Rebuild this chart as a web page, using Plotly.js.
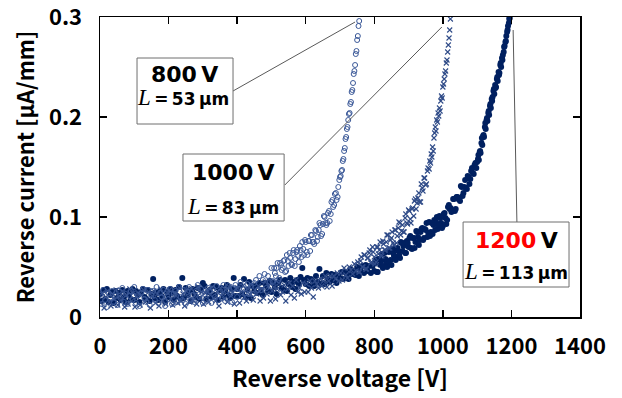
<!DOCTYPE html>
<html>
<head>
<meta charset="utf-8">
<script src="https://cdn.plot.ly/plotly-3.0.1.min.js"></script>
<style>html,body{margin:0;padding:0;background:#fff;}#chart{width:622px;height:398px;}</style>
</head>
<body>
<div id="chart"></div>
<script>
// ---- Data ----
// Reverse voltage [V] and reverse current [µA/mm] for the three devices
const v800 = [0,5,10,15,20,25,30,35,40,45,50,55,60,65,70,75,80,85,90,95,100,105,110,115,120,125,130,135,140,145,150,155,160,165,170,175,180,185,190,195,200,205,210,215,220,225,230,235,240,245,250,255,260,265,270,275,280,285,290,295,300,305,310,315,320,325,330,335,340,345,350,355,360,365,370,375,380,385,390,395,400,405,410,415,420,425,430,435,440,445,450,455,460,465,470,475,480,485,490,495,500,505,510,515,520,525,530,535,540,545,550,555,560,565,570,575,580,585,590,595,600,605,610,615,620,625,630,635,640,645,650,655,660,665,670,675,680,685,690,695,700,702,704,706,708,710,712,714,716,718,720,722,724,726,728,730,732,734,736,738,740,742,744,746,748,750,752,754,756];
const i800 = [0.022,0.013,0.027,0.017,0.010,0.024,0.019,0.026,0.015,0.021,0.012,0.026,0.019,0.029,0.015,0.023,0.013,0.021,0.026,0.017,0.030,0.014,0.022,0.011,0.024,0.028,0.018,0.015,0.027,0.012,0.022,0.026,0.017,0.030,0.014,0.024,0.020,0.027,0.011,0.025,0.018,0.028,0.013,0.023,0.026,0.015,0.030,0.020,0.017,0.027,0.013,0.025,0.030,0.017,0.022,0.015,0.026,0.032,0.020,0.028,0.014,0.023,0.017,0.029,0.026,0.014,0.028,0.020,0.031,0.017,0.025,0.019,0.032,0.016,0.026,0.031,0.023,0.015,0.029,0.032,0.020,0.028,0.035,0.020,0.028,0.024,0.033,0.023,0.031,0.023,0.034,0.037,0.027,0.041,0.027,0.037,0.043,0.029,0.041,0.035,0.049,0.035,0.044,0.049,0.037,0.054,0.047,0.056,0.045,0.062,0.051,0.059,0.052,0.067,0.058,0.067,0.055,0.067,0.075,0.062,0.075,0.062,0.076,0.082,0.075,0.073,0.086,0.080,0.094,0.081,0.093,0.100,0.092,0.104,0.096,0.115,0.110,0.123,0.117,0.130,0.140,0.141,0.146,0.147,0.156,0.158,0.166,0.169,0.178,0.180,0.188,0.190,0.197,0.203,0.204,0.213,0.215,0.225,0.227,0.234,0.243,0.246,0.252,0.263,0.266,0.277,0.281,0.291,0.296];
// second sweep, knee region
const v800b = [503,508,513,518,523,528,533,538,543,548,553,558,563,568,573,578,583,588,593,598,603,608,613,618,623,628,633,638,643,648,653,658,663,668,673,678,683,688,693,698];
const i800b = [0.036,0.049,0.041,0.054,0.039,0.052,0.049,0.057,0.046,0.056,0.064,0.053,0.064,0.051,0.065,0.061,0.071,0.060,0.068,0.077,0.065,0.076,0.066,0.082,0.075,0.087,0.076,0.087,0.092,0.083,0.101,0.094,0.094,0.106,0.103,0.117,0.112,0.124,0.120,0.137];

const v1000 = [2,7,12,17,22,27,32,37,42,47,52,57,62,67,72,77,82,87,92,97,102,107,112,117,122,127,132,137,142,147,152,157,162,167,172,177,182,187,192,197,202,207,212,217,222,227,232,237,242,247,252,257,262,267,272,277,282,287,292,297,302,307,312,317,322,327,332,337,342,347,352,357,362,367,372,377,382,387,392,397,402,407,412,417,422,427,432,437,442,447,452,457,462,467,472,477,482,487,492,497,502,507,512,517,522,527,532,537,542,547,552,557,562,567,572,577,582,587,592,597,602,607,612,617,622,627,632,637,642,647,652,657,662,667,672,677,682,687,692,697,702,707,712,717,722,727,732,737,742,747,752,757,762,767,772,777,782,787,792,797,802,807,812,817,822,827,832,837,842,847,852,857,862,867,872,877,882,887,892,897,902,907,912,917,922,927,932,937,942,947,952,957,960,962,964,966,968,970,972,974,976,978,980,982,984,986,988,990,992,994,996,998,1000,1002,1004,1006,1008,1010,1012,1014,1016,1018,1020,1022];
const i1000 = [0.014,0.024,0.009,0.020,0.026,0.015,0.011,0.023,0.018,0.027,0.012,0.021,0.017,0.025,0.010,0.022,0.013,0.028,0.016,0.024,0.010,0.020,0.024,0.012,0.022,0.027,0.015,0.018,0.025,0.009,0.021,0.026,0.014,0.023,0.011,0.028,0.016,0.020,0.013,0.024,0.027,0.018,0.012,0.024,0.021,0.014,0.029,0.016,0.023,0.011,0.026,0.020,0.015,0.028,0.017,0.022,0.013,0.030,0.019,0.025,0.013,0.024,0.027,0.015,0.022,0.030,0.019,0.016,0.025,0.011,0.029,0.024,0.018,0.027,0.015,0.030,0.021,0.025,0.013,0.028,0.029,0.014,0.025,0.031,0.020,0.016,0.028,0.023,0.032,0.017,0.027,0.023,0.031,0.016,0.028,0.019,0.035,0.023,0.031,0.016,0.026,0.030,0.018,0.028,0.034,0.022,0.025,0.032,0.016,0.028,0.034,0.022,0.031,0.019,0.037,0.025,0.029,0.023,0.034,0.025,0.033,0.025,0.036,0.029,0.020,0.036,0.033,0.029,0.038,0.031,0.036,0.041,0.030,0.036,0.041,0.031,0.041,0.038,0.044,0.036,0.044,0.037,0.049,0.042,0.039,0.050,0.047,0.043,0.053,0.046,0.055,0.045,0.060,0.050,0.062,0.048,0.059,0.067,0.055,0.065,0.053,0.070,0.063,0.075,0.061,0.073,0.067,0.082,0.069,0.077,0.085,0.072,0.087,0.081,0.095,0.082,0.092,0.085,0.103,0.093,0.106,0.094,0.109,0.116,0.108,0.119,0.115,0.133,0.126,0.139,0.133,0.149,0.148,0.156,0.154,0.163,0.160,0.170,0.166,0.179,0.184,0.190,0.186,0.197,0.195,0.204,0.201,0.209,0.206,0.216,0.221,0.219,0.230,0.233,0.238,0.243,0.246,0.254,0.257,0.265,0.272,0.279,0.287,0.298];
// second sweep, knee region
const v1000b = [755,760,765,770,775,780,785,790,795,800,805,810,815,820,825,830,835,840,845,850,855,860,865,870,875,880,885,890,895,900,905,910,915,920,925,930,935,940,945,950,955];
const i1000b = [0.045,0.056,0.050,0.062,0.048,0.059,0.064,0.054,0.070,0.060,0.055,0.070,0.067,0.062,0.076,0.067,0.075,0.082,0.069,0.079,0.074,0.087,0.074,0.089,0.094,0.086,0.085,0.099,0.094,0.107,0.098,0.108,0.101,0.118,0.114,0.124,0.115,0.129,0.139,0.132,0.146];

const v1200 = [0,5,10,15,20,25,30,35,40,45,50,55,60,65,70,75,80,85,90,95,100,105,110,115,120,125,130,135,140,145,150,155,160,165,170,175,180,185,190,195,200,205,210,215,220,225,230,235,240,245,250,255,260,265,270,275,280,285,290,295,300,305,310,315,320,325,330,335,340,345,350,355,360,365,370,375,380,385,390,395,400,405,410,415,420,425,430,435,440,445,450,455,460,465,470,475,480,485,490,495,500,505,510,515,520,525,530,535,540,545,550,555,560,565,570,575,580,585,590,595,600,605,610,615,620,625,630,635,640,645,650,655,660,665,670,675,680,685,690,695,700,705,710,715,720,725,730,735,740,745,750,755,760,765,770,775,780,785,790,795,800,805,810,815,820,825,830,835,840,845,850,855,860,865,870,875,880,885,890,895,900,905,910,915,920,925,930,935,940,945,950,955,960,965,970,975,980,985,990,995,1000,1005,1010,1015,1020,1025,1030,1035,1040,1045,1050,1055,1060,1065,1070,1075,1080,1085,1090,1095,1100,1102.5,1105,1107.5,1110,1112.5,1115,1117.5,1120,1122.5,1125,1127.5,1130,1132.5,1135,1137.5,1140,1142.5,1145,1147.5,1150,1152.5,1155,1157.5,1160,1162.5,1165,1167.5,1170,1172.5,1175,1177.5,1180,1182.5,1185,1187.5,1190,1192.5,1195];
const i1200 = [0.023,0.016,0.027,0.018,0.028,0.015,0.022,0.025,0.014,0.026,0.019,0.024,0.017,0.027,0.020,0.015,0.026,0.023,0.018,0.028,0.017,0.026,0.022,0.015,0.025,0.028,0.020,0.018,0.027,0.016,0.023,0.038,0.019,0.024,0.017,0.026,0.021,0.028,0.015,0.025,0.020,0.028,0.024,0.017,0.027,0.021,0.030,0.018,0.039,0.019,0.029,0.022,0.026,0.016,0.028,0.023,0.020,0.029,0.018,0.027,0.034,0.031,0.018,0.025,0.027,0.020,0.031,0.022,0.030,0.017,0.027,0.029,0.020,0.026,0.032,0.022,0.019,0.028,0.039,0.021,0.028,0.021,0.032,0.023,0.038,0.020,0.027,0.035,0.019,0.031,0.026,0.031,0.024,0.034,0.027,0.022,0.034,0.031,0.026,0.036,0.025,0.034,0.030,0.023,0.034,0.037,0.029,0.027,0.037,0.026,0.033,0.039,0.030,0.035,0.028,0.037,0.033,0.040,0.049,0.037,0.033,0.039,0.031,0.038,0.036,0.031,0.041,0.035,0.048,0.033,0.041,0.033,0.044,0.038,0.035,0.043,0.037,0.042,0.034,0.041,0.039,0.045,0.038,0.045,0.043,0.038,0.048,0.043,0.046,0.042,0.050,0.041,0.047,0.051,0.044,0.052,0.046,0.051,0.044,0.051,0.046,0.057,0.045,0.058,0.056,0.049,0.064,0.055,0.053,0.066,0.052,0.064,0.068,0.060,0.066,0.059,0.074,0.071,0.064,0.076,0.070,0.081,0.068,0.079,0.075,0.085,0.072,0.085,0.089,0.079,0.087,0.080,0.095,0.085,0.083,0.097,0.095,0.088,0.101,0.094,0.091,0.104,0.093,0.110,0.108,0.105,0.118,0.106,0.120,0.118,0.116,0.130,0.124,0.137,0.128,0.140,0.138,0.149,0.143,0.154,0.155,0.158,0.157,0.165,0.164,0.174,0.172,0.181,0.180,0.190,0.188,0.197,0.196,0.204,0.202,0.211,0.209,0.218,0.220,0.226,0.223,0.232,0.230,0.238,0.236,0.245,0.244,0.252,0.250,0.259,0.262,0.265,0.271,0.275,0.281,0.285,0.291,0.294,0.299];
// second sweep, knee and breakdown region
const v1200b = [802.5,807.5,812.5,817.5,822.5,827.5,832.5,837.5,842.5,847.5,852.5,857.5,862.5,867.5,872.5,877.5,882.5,887.5,892.5,897.5,902.5,907.5,912.5,917.5,922.5,927.5,932.5,937.5,942.5,947.5,952.5,957.5,962.5,967.5,972.5,977.5,982.5,987.5,992.5,997.5,1002.5,1007.5,1012.5,1017.5,1022.5,1027.5,1032.5,1037.5,1042.5,1047.5,1052.5,1057.5,1062.5,1067.5,1072.5,1077.5,1082.5,1087.5,1092.5,1097.5,1103.75,1108.75,1113.75,1118.75,1123.75,1128.75,1133.75,1138.75,1143.75,1148.75,1153.75,1158.75,1163.75,1168.75,1173.75,1178.75,1183.75,1188.75,1193.75];
const i1200b = [0.054,0.045,0.058,0.052,0.063,0.051,0.058,0.050,0.065,0.057,0.068,0.061,0.057,0.069,0.062,0.075,0.066,0.074,0.064,0.074,0.079,0.069,0.079,0.069,0.086,0.080,0.077,0.088,0.077,0.088,0.094,0.084,0.081,0.094,0.092,0.087,0.100,0.092,0.099,0.089,0.103,0.099,0.097,0.112,0.109,0.106,0.118,0.108,0.120,0.118,0.131,0.121,0.130,0.129,0.141,0.133,0.146,0.144,0.152,0.149,0.162,0.166,0.179,0.182,0.194,0.199,0.206,0.213,0.216,0.228,0.229,0.240,0.242,0.254,0.257,0.270,0.276,0.287,0.298];

const xTicks = [0,200,400,600,800,1000,1200,1400];
const yTicks = [0,0.1,0.2,0.3];
const xTickText = ['0','200','400','600','800','1000','1200','1400'];
const yTickText = ['0','0.1','0.2','0.3'];

const ratings = ['800','1000','1200'];
const lengths = ['53','83','113'];

// ---- Styling ----
const FONT = '"Noto Sans CJK JP", "Noto Sans", sans-serif';
const WIDE = '"DejaVu Sans", sans-serif';
const traces = [
  {x:v1200.concat(v1200b), y:i1200.concat(i1200b), type:'scatter', mode:'markers', name:ratings[2]+' V',
   marker:{symbol:'circle', size:6, color:'#002060', line:{width:0}}},
  {x:v1000.concat(v1000b), y:i1000.concat(i1000b), type:'scatter', mode:'markers', name:ratings[1]+' V',
   marker:{symbol:'x-thin', size:5, color:'#2f4b88', line:{color:'#2f4b88', width:1.1}}},
  {x:v800.concat(v800b), y:i800.concat(i800b), type:'scatter', mode:'markers', name:ratings[0]+' V',
   marker:{symbol:'circle-open', size:5, color:'#3a5898', line:{color:'#3a5898', width:1}}}
];

const Lspan = '<span style="font-family:\'Liberation Serif\';font-style:italic;font-weight:400;font-size:23px">L</span>';
function line2(len){ return Lspan + '\u2009=\u2009' + len + '\u2009µm'; }

const boxes = [
  {x0:108, x1:388, y0:0.193, y1:0.259, lx0:388, ly0:0.226, lx1:744, ly1:0.295, t1x:245, t1y:0.2425, t2x:243, t2y:0.2195},
  {x0:242, x1:537, y0:0.096, y1:0.163, lx0:539, ly0:0.132, lx1:997, ly1:0.290, t1x:389, t1y:0.1445, t2x:389, t2y:0.1105},
  {x0:1059, x1:1368, y0:0.030, y1:0.095, lx0:1216, ly0:0.095, lx1:1205, ly1:0.287, t1x:1216, t1y:0.0765, t2x:1214, t2y:0.0455}
];

const shapes = [];
const annotations = [];
boxes.forEach((b, k) => {
  shapes.push({type:'line', xref:'x', yref:'y', x0:b.lx0, y0:b.ly0, x1:b.lx1, y1:b.ly1, line:{color:'#595959', width:1}});
  shapes.push({type:'rect', xref:'x', yref:'y', x0:b.x0, x1:b.x1, y0:b.y0, y1:b.y1, fillcolor:'#ffffff', line:{color:'#6f6f6f', width:1}, layer:'above'});
  const r = ratings[k];
  const t1 = (k === 2 ? '<span style="fill:#ff0000">' + r + '</span>' : r) + '\u2009V';
  annotations.push({xref:'x', yref:'y', x:b.t1x, y:b.t1y, text:t1, showarrow:false,
    font:{family:WIDE, size:22, color:'#000', weight:700}, xanchor:'center', yanchor:'middle'});
  annotations.push({xref:'x', yref:'y', x:b.t2x, y:b.t2y, text:line2(lengths[k]), showarrow:false,
    font:{family:WIDE, size:17, color:'#000', weight:700}, xanchor:'center', yanchor:'middle'});
});

const axisCommon = {
  showgrid:false, zeroline:false, showline:true, linecolor:'#000', linewidth:1.5,
  mirror:'ticks', ticks:'inside', ticklen:7, tickwidth:1.3, tickcolor:'#000',
  ticklabeloverflow:'allow',
  tickfont:{family:FONT, size:22, color:'#000', weight:700}
};

const layout = {
  width:622, height:398,
  margin:{l:100, r:42, t:17, b:81},
  paper_bgcolor:'#fff', plot_bgcolor:'#fff',
  showlegend:false,
  font:{family:FONT, color:'#000'},
  xaxis:Object.assign({}, axisCommon, {
    range:[0,1400], tickvals:xTicks, ticktext:xTickText, ticklabelstandoff:9,
    title:{text:'Reverse voltage [V]', font:{family:FONT, size:23, color:'#000', weight:700}, standoff:12}
  }),
  yaxis:Object.assign({}, axisCommon, {
    range:[0,0.3], tickvals:yTicks, ticktext:yTickText, ticklabelstandoff:12,
    title:{text:'Reverse current [µA/mm]', font:{family:FONT, size:22, color:'#000', weight:700}, standoff:8}
  }),
  shapes:shapes,
  annotations:annotations
};

Plotly.newPlot('chart', traces, layout, {displayModeBar:false, staticPlot:true});
</script>
</body>
</html>
